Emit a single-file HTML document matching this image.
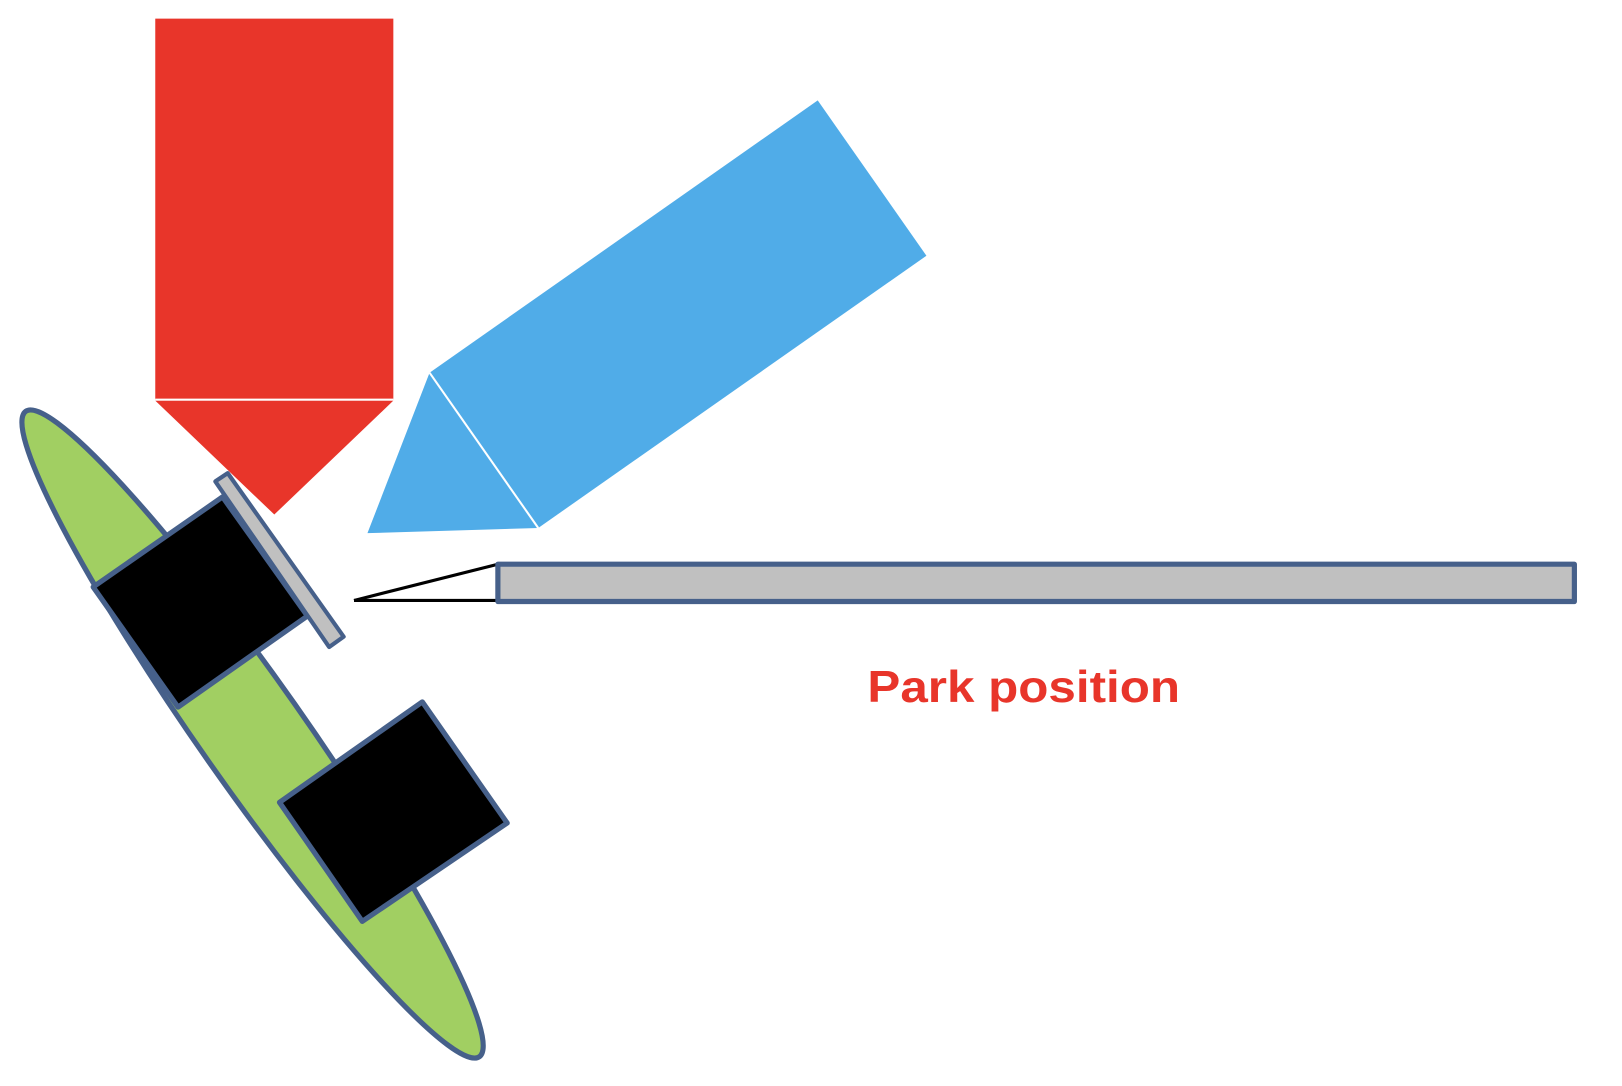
<!DOCTYPE html>
<html>
<head>
<meta charset="utf-8">
<style>
html,body{margin:0;padding:0;background:#fff;}
svg{display:block;}
</style>
</head>
<body>
<svg width="1622" height="1086" viewBox="0 0 1567 1049" preserveAspectRatio="none" xmlns="http://www.w3.org/2000/svg">
  <g>
    <rect x="150" y="18" width="230" height="368" fill="#e8352a"/>
    <polygon points="150,387 380,387 265,497" fill="#e8352a"/>
    <line x1="150" y1="386" x2="380" y2="386" stroke="#fff" stroke-width="2"/>
  </g>
  <g>
    <polygon points="415,360 790,97 895,247 520,510" fill="#50ace8"/>
    <polygon points="415,360 355,515 520,510" fill="#50ace8"/>
    <line x1="415" y1="360" x2="520" y2="510" stroke="#fff" stroke-width="2"/>
  </g>
  <ellipse cx="244" cy="709" rx="381" ry="50" transform="rotate(54.9 244 709)" fill="#a1cf62" stroke="#46608a" stroke-width="5"/>
  <polygon points="90,567 215,480 297,595 172,683" fill="#000" stroke="#46608a" stroke-width="5" stroke-linejoin="round"/>
  <polygon points="270,775 408,678 490,795 350,890" fill="#000" stroke="#46608a" stroke-width="5" stroke-linejoin="round"/>
  <polygon points="208,465 220,457 332,615 318,625" fill="#c0c0c0" stroke="#46608a" stroke-width="4" stroke-linejoin="round"/>
  <line x1="342" y1="580" x2="481" y2="545" stroke="#000" stroke-width="3"/>
  <line x1="342" y1="580" x2="640" y2="580" stroke="#000" stroke-width="3"/>
  <rect x="481" y="545" width="1040" height="36" fill="#c0c0c0" stroke="#46608a" stroke-width="5" stroke-linejoin="round"/>
  <text x="838" y="678" font-family="Liberation Sans, sans-serif" font-weight="bold" font-size="43" fill="#e8352a" textLength="302" lengthAdjust="spacingAndGlyphs">Park position</text>
</svg>
</body>
</html>
